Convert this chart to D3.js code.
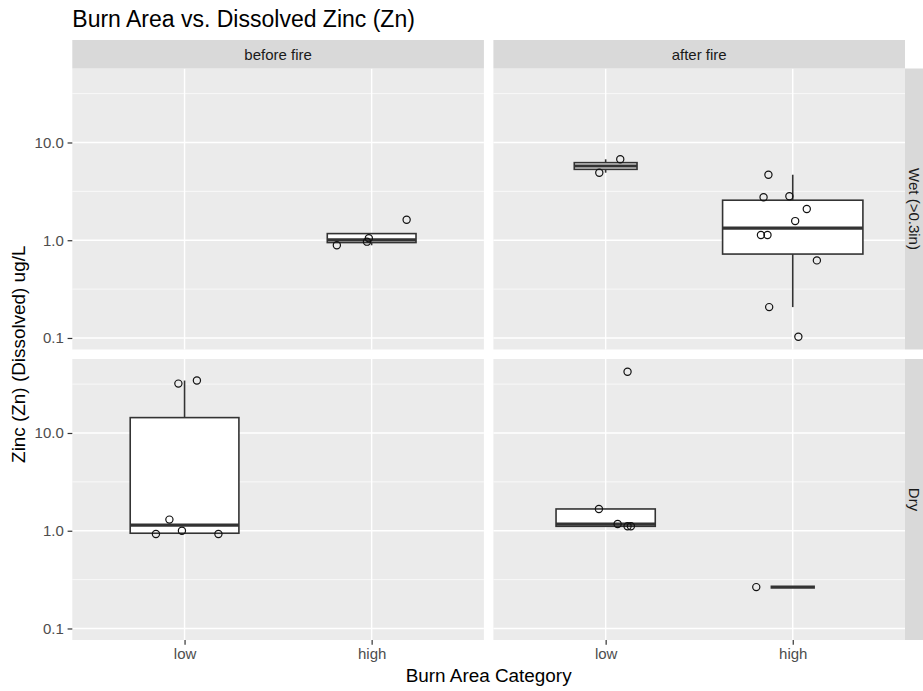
<!DOCTYPE html>
<html>
<head>
<meta charset="utf-8">
<script src="https://cdn.jsdelivr.net/npm/d3@7"></script>
<style>
  body { margin: 0; background: #ffffff; }
  text { font-family: "Liberation Sans", Arial, Helvetica, sans-serif; }
</style>
</head>
<body>
<svg id="chart" width="923" height="691"></svg>
<script>
// ---- data -------------------------------------------------------------
const periods = ["before fire", "after fire"];
const conditions = ["Wet (>0.3in)", "Dry"];
const burnCategories = ["low", "high"];
const yTickValues = [0.1, 1, 10];
const yTickLabels = ["0.1", "1.0", "10.0"];

// one entry per (period, condition, burn category) group
const groupPeriod    = ["before fire", "after fire", "after fire", "before fire", "after fire", "after fire"];
const groupCondition = ["Wet (>0.3in)", "Wet (>0.3in)", "Wet (>0.3in)", "Dry", "Dry", "Dry"];
const groupCategory  = ["high", "low", "high", "low", "low", "high"];

// dissolved zinc samples, ug/L
const groupZinc = [
  [0.888, 0.967, 1.049, 1.62],
  [4.91, 6.73],
  [4.68, 2.75, 2.82, 2.09, 1.57, 1.13, 1.13, 0.622, 0.207, 0.103],
  [32.0, 34.4, 1.30, 0.925, 1.0, 0.925],
  [42.3, 1.67, 1.17, 1.11, 1.11],
  [0.265]
];
// horizontal jitter of each sample, in category units
const groupJitter = [
  [-0.186, -0.025, -0.015, 0.187],
  [-0.034, 0.078],
  [-0.13, -0.156, -0.018, 0.075, 0.013, -0.17, -0.135, 0.129, -0.126, 0.03],
  [-0.033, 0.066, -0.081, -0.153, -0.014, 0.181],
  [0.117, -0.036, 0.064, 0.117, 0.135],
  [-0.195]
];

// ---- layout -----------------------------------------------------------
const W = 923, H = 691;
const panelLeft = 72.3, panelW = 411.6, gap = 9.5;
const stripTop = 40, stripH = 28.5;
const panelTop = stripTop + stripH, panelH = 281;
const rightStripW = 28.5;

const svg = d3.select("#chart");
svg.append("rect").attr("width", W).attr("height", H).attr("fill", "#ffffff");

// shared log scale domain, expanded 5% on each side like ggplot
const allLogs = groupZinc.flat().map(v => Math.log10(v));
const [lmin, lmax] = d3.extent(allLogs);
const pad = (lmax - lmin) * 0.05;
const yDomain = [Math.pow(10, lmin - pad), Math.pow(10, lmax + pad)];

const maxN = d3.max(groupZinc, g => g.length);

function colX(c) { return panelLeft + c * (panelW + gap); }
function rowY(r) { return panelTop + r * (panelH + gap); }

// minor breaks halfway between decades (in log space)
const minorBreaks = d3.range(-3, 3).map(k => Math.pow(10, k + 0.5))
  .filter(v => v > yDomain[0] && v < yDomain[1]);

conditions.forEach((cond, r) => {
  periods.forEach((per, c) => {
    const x0 = colX(c), y0 = rowY(r);
    const x = d3.scalePoint().domain(burnCategories).range([x0, x0 + panelW]).padding(0.6);
    const y = d3.scaleLog().domain(yDomain).range([y0 + panelH, y0]);
    const step = x.step();

    const g = svg.append("g");
    g.append("rect").attr("x", x0).attr("y", y0).attr("width", panelW).attr("height", panelH)
      .attr("fill", "#ebebeb");

    g.selectAll(".minor").data(minorBreaks).join("line")
      .attr("x1", x0).attr("x2", x0 + panelW)
      .attr("y1", d => y(d)).attr("y2", d => y(d))
      .attr("stroke", "#ffffff").attr("stroke-width", 0.7);
    g.selectAll(".majorY").data(yTickValues).join("line")
      .attr("x1", x0).attr("x2", x0 + panelW)
      .attr("y1", d => y(d)).attr("y2", d => y(d))
      .attr("stroke", "#ffffff").attr("stroke-width", 1.4);
    g.selectAll(".majorX").data(burnCategories).join("line")
      .attr("x1", d => x(d)).attr("x2", d => x(d))
      .attr("y1", y0).attr("y2", y0 + panelH)
      .attr("stroke", "#ffffff").attr("stroke-width", 1.4);

    const marks = g.append("g");

    groupZinc.forEach((vals, gi) => {
      if (groupPeriod[gi] !== per || groupCondition[gi] !== cond) return;
      const cx = x(groupCategory[gi]);
      const logs = vals.map(v => Math.log10(v)).sort(d3.ascending);
      const q1 = d3.quantile(logs, 0.25), med = d3.quantile(logs, 0.5), q3 = d3.quantile(logs, 0.75);
      const iqr = q3 - q1;
      const lo = d3.min(logs.filter(l => l >= q1 - 1.5 * iqr));
      const hi = d3.max(logs.filter(l => l <= q3 + 1.5 * iqr));
      const p = l => y(Math.pow(10, l));
      const bw = 0.75 * Math.sqrt(vals.length / maxN) * step;

      // whiskers
      marks.append("line").attr("x1", cx).attr("x2", cx).attr("y1", p(q3)).attr("y2", p(hi))
        .attr("stroke", "#333333").attr("stroke-width", 1.6);
      marks.append("line").attr("x1", cx).attr("x2", cx).attr("y1", p(q1)).attr("y2", p(lo))
        .attr("stroke", "#333333").attr("stroke-width", 1.6);
      // box
      marks.append("rect").attr("x", cx - bw / 2).attr("y", p(q3))
        .attr("width", bw).attr("height", Math.max(0, p(q1) - p(q3)))
        .attr("fill", "#ffffff").attr("stroke", "#333333").attr("stroke-width", 1.6);
      // median
      marks.append("line").attr("x1", cx - bw / 2).attr("x2", cx + bw / 2)
        .attr("y1", p(med)).attr("y2", p(med))
        .attr("stroke", "#333333").attr("stroke-width", 3.2);
    });

    groupZinc.forEach((vals, gi) => {
      if (groupPeriod[gi] !== per || groupCondition[gi] !== cond) return;
      const cx = x(groupCategory[gi]);
      marks.selectAll(null).data(vals.map((v, i) => ({ v, j: groupJitter[gi][i] }))).join("circle")
        .attr("cx", d => cx + d.j * step).attr("cy", d => y(d.v)).attr("r", 3.6)
        .attr("fill", "none").attr("stroke", "#111111").attr("stroke-width", 1.2);
    });

    // left axis on first column
    if (c === 0) {
      const ax = svg.append("g").attr("transform", `translate(${x0},0)`)
        .call(d3.axisLeft(y).tickValues(yTickValues)
          .tickFormat((d, i) => yTickLabels[i]).tickSize(4.7).tickPadding(3.8));
      ax.select(".domain").remove();
      ax.selectAll("line").attr("stroke", "#333333").attr("stroke-width", 1.2);
      ax.selectAll("text").attr("fill", "#4d4d4d").attr("font-size", 15)
        .attr("font-family", "Liberation Sans, Arial, sans-serif");
    }
    // bottom axis on last row
    if (r === conditions.length - 1) {
      const ax = svg.append("g").attr("transform", `translate(0,${y0 + panelH})`)
        .call(d3.axisBottom(x).tickSize(4.7).tickPadding(3.8));
      ax.select(".domain").remove();
      ax.selectAll("line").attr("stroke", "#333333").attr("stroke-width", 1.2);
      ax.selectAll("text").attr("fill", "#4d4d4d").attr("font-size", 15)
        .attr("font-family", "Liberation Sans, Arial, sans-serif");
    }
  });
});

// top strips
periods.forEach((per, c) => {
  const x0 = colX(c);
  svg.append("rect").attr("x", x0).attr("y", stripTop).attr("width", panelW).attr("height", stripH)
    .attr("fill", "#d9d9d9");
  svg.append("text").attr("x", x0 + panelW / 2).attr("y", stripTop + 20)
    .attr("text-anchor", "middle").attr("font-size", 15).attr("fill", "#1a1a1a").text(per);
});

// right strips
conditions.forEach((cond, r) => {
  const y0 = rowY(r);
  const sx = colX(1) + panelW;
  svg.append("rect").attr("x", sx).attr("y", y0).attr("width", rightStripW).attr("height", panelH)
    .attr("fill", "#d9d9d9");
  svg.append("text").attr("transform", `translate(${sx + 4.3},${y0 + panelH / 2}) rotate(90)`)
    .attr("text-anchor", "middle").attr("font-size", 15).attr("fill", "#1a1a1a").text(cond);
});

// titles
svg.append("text").attr("x", panelLeft).attr("y", 27).attr("font-size", 23).attr("fill", "#000")
  .text("Burn Area vs. Dissolved Zinc (Zn)");
svg.append("text").attr("x", panelLeft + (2 * panelW + gap) / 2).attr("y", 682)
  .attr("text-anchor", "middle").attr("font-size", 18.9).attr("fill", "#000")
  .text("Burn Area Category");
svg.append("text")
  .attr("transform", `translate(25,${panelTop + panelH + gap / 2}) rotate(-90)`)
  .attr("text-anchor", "middle").attr("font-size", 18.9).attr("fill", "#000")
  .text("Zinc (Zn) (Dissolved) ug/L");
</script>
</body>
</html>
